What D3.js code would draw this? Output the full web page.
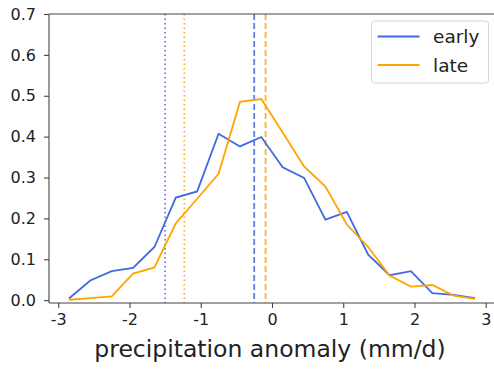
<!DOCTYPE html>
<meta charset="utf-8">
<style>
body { margin: 0; background: #fff; }
svg { display: block; }
.axis path, .axis line { stroke: #444; stroke-width: 1.1; }
</style>
<body>
<svg width="494" height="369"></svg>
</body>
<script src="https://cdn.jsdelivr.net/npm/d3@7"></script>
<script>

// bin centres (mm/d)
var centers = [-2.85, -2.55, -2.25, -1.95, -1.65, -1.35, -1.05, -0.75, -0.45, -0.15,
               0.15, 0.45, 0.75, 1.05, 1.35, 1.65, 1.95, 2.25, 2.55, 2.85];
var early = [0.004, 0.048, 0.071, 0.079, 0.13, 0.251, 0.266, 0.407, 0.376, 0.399,
             0.325, 0.299, 0.197, 0.216, 0.111, 0.061, 0.071, 0.017, 0.013, 0.005];
var late = [0.001, 0.005, 0.009, 0.065, 0.08, 0.188, 0.248, 0.309, 0.485, 0.492,
            0.41, 0.327, 0.278, 0.185, 0.13, 0.06, 0.033, 0.037, 0.011, 0.003];
// percentile (dotted) and mean (dashed) markers
var earlyLow = -1.50, lateLow = -1.23;
var earlyMean = -0.25, lateMean = -0.09;
var xTicks = [-3, -2, -1, 0, 1, 2, 3];
var yTicks = [0, 0.1, 0.2, 0.3, 0.4, 0.5, 0.6, 0.7];

var blue = "#4169e1", orange = "#ffa500";
var font = "DejaVu Sans, sans-serif";

var svg = d3.select("svg");
var margin = {left: 49, top: 14, right: -1, bottom: 66};
var w = 494 - margin.left - margin.right,
    h = 369 - margin.top - margin.bottom;

var x = d3.scaleLinear().domain([-3.13, 3.13]).range([margin.left, margin.left + w]);
var y = d3.scaleLinear().domain([-0.007, 0.7]).range([margin.top + h, margin.top]);

var g = svg.append("g");

// vertical reference lines
var vlines = [
  {v: earlyLow, c: blue, dash: "1.5,3"},
  {v: lateLow, c: orange, dash: "1.5,3"},
  {v: earlyMean, c: blue, dash: "6,3"},
  {v: lateMean, c: orange, dash: "6,3"}
];
g.selectAll(".vline")
  .data(vlines)
  .enter().append("line")
    .attr("x1", d => x(d.v)).attr("x2", d => x(d.v))
    .attr("y1", y(0.7)).attr("y2", y(-0.007))
    .attr("stroke", d => d.c)
    .attr("stroke-width", 1.8)
    .attr("stroke-dasharray", d => d.dash)
    .attr("opacity", 0.85);

var line = d3.line()
  .x((d, i) => x(centers[i]))
  .y(d => y(d));

g.append("path").datum(early)
  .attr("d", line).attr("fill", "none")
  .attr("stroke", blue).attr("stroke-width", 1.8);
g.append("path").datum(late)
  .attr("d", line).attr("fill", "none")
  .attr("stroke", orange).attr("stroke-width", 1.8);

// axes
svg.append("g")
  .attr("class", "axis")
  .attr("transform", `translate(0,${margin.top + h})`)
  .call(d3.axisBottom(x).tickValues(xTicks).tickSize(5).tickPadding(6)
        .tickFormat(d => d < 0 ? "-" + Math.abs(d) : d))
  .attr("font-size", 16).attr("font-family", font)
  .call(a => a.selectAll("text").attr("fill", "#222"))
  .call(a => a.select(".domain").attr("d", `M${margin.left},0H${margin.left + w}`));

svg.append("g")
  .attr("class", "axis")
  .attr("transform", `translate(${margin.left},0)`)
  .call(d3.axisLeft(y).tickValues(yTicks).tickSize(5).tickPadding(8)
        .tickFormat(d3.format(".1f")))
  .attr("font-size", 16).attr("font-family", font)
  .call(a => a.selectAll("text").attr("fill", "#222"))
  .call(a => a.select(".domain").attr("d", `M0,${margin.top + h}V${margin.top}`));

// top spine
svg.append("line")
  .attr("x1", margin.left).attr("x2", margin.left + w)
  .attr("y1", margin.top).attr("y2", margin.top)
  .attr("stroke", "#444").attr("stroke-width", 1.1);

svg.append("text")
  .attr("x", 270).attr("y", 357)
  .attr("text-anchor", "middle")
  .attr("font-family", font)
  .attr("font-size", 23.5)
  .attr("fill", "#222")
  .text("precipitation anomaly (mm/d)");

// legend
var leg = svg.append("g").attr("transform", "translate(371.5,21)");
leg.append("rect")
  .attr("width", 117).attr("height", 62)
  .attr("rx", 3)
  .attr("fill", "#fff").attr("fill-opacity", 0.8)
  .attr("stroke", "#d6d6d6");
var entries = [{name: "early", c: blue}, {name: "late", c: orange}];
var row = leg.selectAll(".row").data(entries).enter().append("g")
  .attr("transform", (d, i) => `translate(0,${15.5 + i * 28.5})`);
row.append("line")
  .attr("x1", 6).attr("x2", 48)
  .attr("stroke", d => d.c).attr("stroke-width", 1.8);
row.append("text")
  .attr("x", 61.5).attr("y", 6.5)
  .attr("font-family", font)
  .attr("font-size", 18.5).attr("fill", "#222")
  .text(d => d.name);

</script>
